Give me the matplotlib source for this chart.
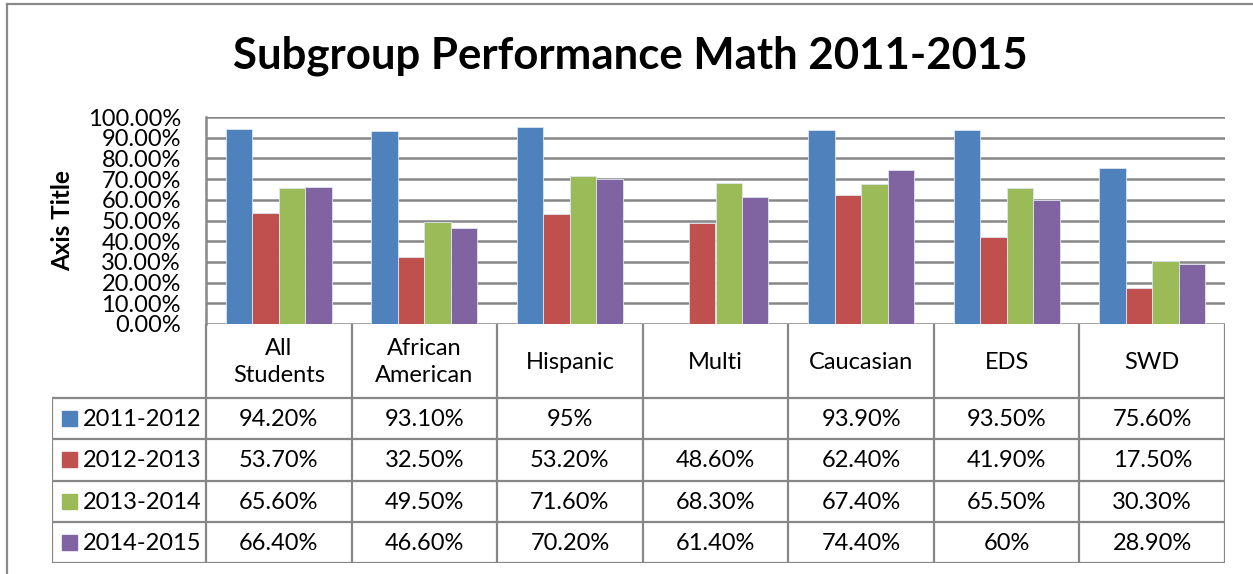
import matplotlib
matplotlib.use('Agg')
import matplotlib.pyplot as plt
from matplotlib.patches import Rectangle
import numpy as np

plt.rcParams['font.family'] = ['Lato', 'DejaVu Sans']

groups = ['All\nStudents', 'African\nAmerican', 'Hispanic', 'Multi', 'Caucasian', 'EDS', 'SWD']
years = ['2011-2012', '2012-2013', '2013-2014', '2014-2015']
y2011 = [94.2, 93.1, 95.0, np.nan, 93.9, 93.5, 75.6]
y2012 = [53.7, 32.5, 53.2, 48.6, 62.4, 41.9, 17.5]
y2013 = [65.6, 49.5, 71.6, 68.3, 67.4, 65.5, 30.3]
y2014 = [66.4, 46.6, 70.2, 61.4, 74.4, 60.0, 28.9]
colors = ['#4F81BD', '#C0504D', '#9BBB59', '#8064A2']
series = [y2011, y2012, y2013, y2014]


def fmt(v):
    if np.isnan(v):
        return ''
    if float(v).is_integer():
        return f'{v:.0f}%'
    return f'{v:.2f}%'


W, H = 1253, 574
fig = plt.figure(figsize=(W / 100, H / 100), dpi=100)
grid_c = '#878787'

# outer chart border (only top and left visible in the crop)
fig.add_artist(plt.Line2D([7 / W, 7 / W], [0, 1 - 4 / H], color='#8a8a8a', lw=1.6))
fig.add_artist(plt.Line2D([7 / W, 1], [1 - 4 / H, 1 - 4 / H], color='#8a8a8a', lw=1.6))

px0, px1 = 206, 1225
py_top, py_bot = 117, 324
ax = fig.add_axes([px0 / W, 1 - py_bot / H, (px1 - px0) / W, (py_bot - py_top) / H])

n = len(groups)
x = np.arange(n)
bw = 0.182
for i, (vals, c) in enumerate(zip(series, colors)):
    ax.bar(x + (i - 1.5) * bw, vals, width=bw, color=c, edgecolor='#dfe6f0', linewidth=0.6, zorder=3)

ax.set_xlim(-0.5, n - 0.5)
ax.set_ylim(0, 100)
ax.set_yticks(np.arange(0, 101, 10))
ax.set_yticklabels([f'{t:.2f}%' for t in np.arange(0, 101, 10)], fontsize=17)
ax.tick_params(axis='y', length=0, pad=18)
ax.set_xticks([])
ax.yaxis.grid(True, color=grid_c, lw=1.8, zorder=0)
for s in ['top', 'right', 'bottom']:
    ax.spines[s].set_visible(False)
ax.spines['left'].set_color(grid_c)
ax.spines['left'].set_linewidth(1.8)
ax.set_ylabel('Axis Title', fontsize=17.5, fontweight='bold', labelpad=10)

fig.text(630 / W, 1 - 56 / H, 'Subgroup Performance Math 2011-2015',
         fontsize=31.5, fontweight='bold', ha='center', va='center')

# data table below the plot
tx0, ty0, ty1 = 52, 324, 563
tab = fig.add_axes([tx0 / W, 1 - ty1 / H, (px1 - tx0) / W, (ty1 - ty0) / H])
colw = (px1 - px0) / n
left = -0.5 - (px0 - tx0) / colw
tab.set_xlim(left, n - 0.5)
tab.set_ylim(ty1 - ty0, 0)
tab.axis('off')

head_h = 74
row_h = (ty1 - ty0 - head_h) / len(years)
lw = 1.6
fs = 17
# horizontal lines
for k in range(len(years) + 1):
    yy = head_h + k * row_h
    tab.plot([left, n - 0.5], [yy, yy], color=grid_c, lw=lw, solid_capstyle='butt')
# vertical lines
for j in range(n + 1):
    tab.plot([j - 0.5, j - 0.5], [0, ty1 - ty0], color=grid_c, lw=lw)
tab.plot([left, left], [head_h, ty1 - ty0], color=grid_c, lw=lw)

for j, g in enumerate(groups):
    tab.text(j, head_h / 2 + 1, g, ha='center', va='center', fontsize=fs, linespacing=1.3)

for k, (yr, vals, c) in enumerate(zip(years, series, colors)):
    yc = head_h + (k + 0.5) * row_h
    sq = 15 / colw
    tab.add_patch(Rectangle((left + 10 / colw, yc - 7.5), sq, 15, color=c))
    tab.text(left + 31 / colw, yc + 1, yr, ha='left', va='center', fontsize=fs)
    for j, v in enumerate(vals):
        tab.text(j, yc + 1, fmt(v), ha='center', va='center', fontsize=fs)

plt.savefig('out.png', dpi=100)
plt.close(fig)
